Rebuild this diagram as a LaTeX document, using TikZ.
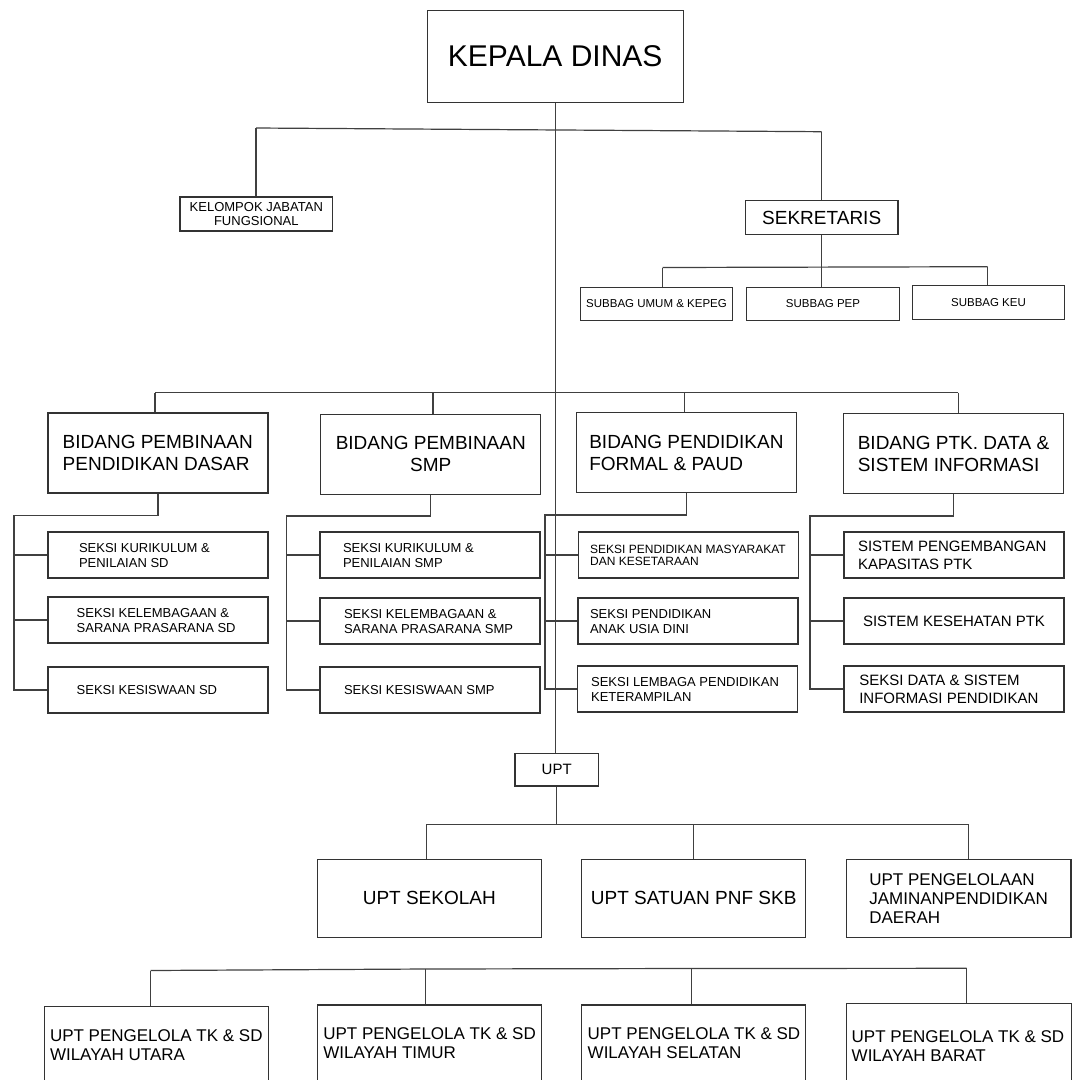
\documentclass[tikz,border=0pt]{standalone}
\usepackage{fontspec}
\setmainfont{Liberation Sans}
\newcommand\lcell[2]{\makebox[#1][l]{\raisebox{0pt}[\dimexpr\height-0.7\baselineskip+0.72em\relax][\dimexpr\depth-0.3\baselineskip\relax]{\begin{tabular}[t]{@{}l@{}}#2\end{tabular}}}}

\tikzset{
  unit/.style={draw=black!80, line width=1.2pt, rectangle, inner sep=0pt, text=black},
  link/.style={draw=black!75, line width=1.2pt},
  head/.style={unit, minimum width=256pt, minimum height=92pt, font=\fontsize{30}{34}\selectfont},
  staff/.style={unit, align=center, minimum width=152.6pt, minimum height=34pt, font=\fontsize{13}{13.6}\selectfont},
  sekbox/.style={unit, minimum width=152.7pt, minimum height=33.6pt, font=\fontsize{19}{22}\selectfont},
  subbag/.style={unit, minimum width=152.5pt, minimum height=33.5pt, font=\fontsize{11.5}{13}\selectfont},
  bidang/.style={unit, minimum width=220pt, minimum height=80pt, font=\fontsize{19}{22}\selectfont},
  seksi/.style={unit, minimum width=220pt, minimum height=46pt, font=\fontsize{13}{15}\selectfont},
  uptsmall/.style={unit, minimum width=83.3pt, minimum height=32.7pt, font=\fontsize{15}{17}\selectfont},
  uptunit/.style={unit, minimum width=224pt, minimum height=78pt, font=\fontsize{19}{22}\selectfont},
  wilayah/.style={unit, minimum width=224pt, font=\fontsize{17}{19}\selectfont}
}

\begin{document}
\begin{tikzpicture}[x=1pt, y=-1pt]

\path [use as bounding box, fill=white] (0,0) rectangle (1076,1080);
\clip (0,0) rectangle (1076,1080);

% HEAD
\node[head] (kadis) at (555.2,56.5) {KEPALA DINAS};
\node[staff] (kjf) at (256.3,214) {KELOMPOK JABATAN\\FUNGSIONAL};
\node[sekbox] (sek) at (821.7,217.5) {SEKRETARIS};
\node[subbag] (umum) at (656.5,304) {SUBBAG UMUM \& KEPEG};
\node[subbag] (pep) at (823,304) {SUBBAG PEP};
\node[subbag] (keu) at (988.5,302.4) {SUBBAG KEU};

\coordinate (k1) at (256,128);
\coordinate (k2) at (821.7,131.7);
\draw[link] (k1) -- (k2);
\draw[link] (k1) -- (k1 |- kjf.north);
\draw[link] (k2) -- (k2 |- sek.north);

\coordinate (g1) at (662.7,267.5);
\coordinate (g2) at (987.7,266.7);
\draw[link] (g1) -- (g2);
\draw[link] (g1) -- (g1 |- umum.north);
\draw[link] (g2) -- (g2 |- keu.north);
\draw[link] (sek.south) -- (sek.south |- pep.north);

% BIDANG
\node[bidang] (bd1) at (158,453) {\lcell{190.6pt}{BIDANG PEMBINAAN\\PENDIDIKAN DASAR}};
\node[bidang, align=center] (bd2) at (430.8,454.2) {BIDANG PEMBINAAN\\SMP};
\node[bidang] (bd3) at (686.7,452.7) {\lcell{194.8pt}{BIDANG PENDIDIKAN\\FORMAL \& PAUD}};
\node[bidang] (bd4) at (953.8,453.3) {\lcell{192pt}{BIDANG PTK. DATA \&\\SISTEM INFORMASI}};

\coordinate (t1) at (155,392.7);
\coordinate (t2) at (433,392.7);
\coordinate (t3) at (684.3,392.7);
\coordinate (t4) at (958.3,392.7);
\draw[link] (t1) -- (t4);
\foreach \i in {1,...,4}
  \draw[link] (t\i) -- (t\i |- bd\i.north);

% SEKSI
\node[seksi] (s11) at (158,555) {\lcell{158pt}{SEKSI KURIKULUM \&\\PENILAIAN SD}};
\node[seksi] (s12) at (158,620) {\lcell{162.6pt}{SEKSI KELEMBAGAAN \&\\SARANA PRASARANA SD}};
\node[seksi] (s13) at (158,690) {\lcell{162.6pt}{SEKSI KESISWAAN SD}};

\node[seksi] (s21) at (430,555) {\lcell{174pt}{SEKSI KURIKULUM \&\\PENILAIAN SMP}};
\node[seksi] (s22) at (430,621) {\lcell{172pt}{SEKSI KELEMBAGAAN \&\\SARANA PRASARANA SMP}};
\node[seksi] (s23) at (430,690) {\lcell{172pt}{SEKSI KESISWAAN SMP}};

\node[seksi, font=\fontsize{12}{12.5}\selectfont] (s31) at (688.5,555) {\lcell{196.6pt}{SEKSI PENDIDIKAN MASYARAKAT\\DAN KESETARAAN}};
\node[seksi] (s32) at (688,621) {\lcell{196pt}{SEKSI PENDIDIKAN\\ANAK USIA DINI}};
\node[seksi] (s33) at (687.5,689) {\lcell{192.8pt}{SEKSI LEMBAGA PENDIDIKAN\\KETERAMPILAN}};

\node[seksi, font=\fontsize{15}{17.3}\selectfont] (s41) at (954,555) {\lcell{192pt}{SISTEM PENGEMBANGAN\\KAPASITAS PTK}};
\node[seksi, font=\fontsize{15}{17.3}\selectfont] (s42) at (954,621) {SISTEM KESEHATAN PTK};
\node[seksi, font=\fontsize{15}{17.3}\selectfont] (s43) at (954,689) {\lcell{189.4pt}{SEKSI DATA \& SISTEM\\INFORMASI PENDIDIKAN}};

\coordinate (sp1) at (14,515.5);
\coordinate (sp2) at (286.7,516);
\coordinate (sp3) at (545,515);
\coordinate (sp4) at (810,516);
\foreach \c in {1,...,4} {
  \draw[link] (bd\c.south) |- (sp\c) |- (s\c3.west);
  \foreach \r in {1,2}
    \draw[link] (sp\c |- s\c\r.west) -- (s\c\r.west);
}

% UPT
\node[uptsmall] (upt) at (556.7,769.7) {UPT};
\draw[link] (kadis.south) -- (kadis.south |- upt.north);

\node[uptunit] (usek) at (429.3,898.3) {UPT SEKOLAH};
\node[uptunit] (uskb) at (693.7,898.3) {UPT SATUAN PNF SKB};
\node[uptunit, minimum width=224.3pt, font=\fontsize{17}{19.2}\selectfont] (ujpd) at (958.8,898.3) {\lcell{179pt}{UPT PENGELOLAAN\\JAMINANPENDIDIKAN\\DAERAH}};

\coordinate (u1) at (426.7,824.3);
\coordinate (u2) at (693.3,824.3);
\coordinate (u3) at (968.7,824.3);
\draw[link] (upt.south) -- (upt.south |- u1);
\draw[link] (u1) -- (u3);
\draw[link] (u1) -- (u1 |- usek.north);
\draw[link] (u2) -- (u2 |- uskb.north);
\draw[link] (u3) -- (u3 |- ujpd.north);

% WILAYAH
\node[wilayah, minimum height=76.4pt] (wu) at (156.3,1044.9) {\lcell{212.6pt}{UPT PENGELOLA TK \& SD\\WILAYAH UTARA}};
\node[wilayah, minimum height=75.8pt] (wt) at (429.3,1042.9) {\lcell{212pt}{UPT PENGELOLA TK \& SD\\WILAYAH TIMUR}};
\node[wilayah, minimum height=75.8pt] (ws) at (693.7,1042.9) {\lcell{212pt}{UPT PENGELOLA TK \& SD\\WILAYAH SELATAN}};
\node[wilayah, minimum width=225pt, minimum height=83.8pt] (wb) at (959.2,1045.6) {\lcell{215pt}{UPT PENGELOLA TK \& SD\\WILAYAH BARAT}};

\coordinate (w1) at (150.7,970.5);
\coordinate (w2) at (425.7,969);
\coordinate (w3) at (691.3,968.5);
\coordinate (w4) at (966.7,968.3);
\draw[link] (w1) -- (w2) -- (w3) -- (w4);
\draw[link] (w1) -- (w1 |- wu.north);
\draw[link] (w2) -- (w2 |- wt.north);
\draw[link] (w3) -- (w3 |- ws.north);
\draw[link] (w4) -- (w4 |- wb.north);

\end{tikzpicture}
\end{document}
